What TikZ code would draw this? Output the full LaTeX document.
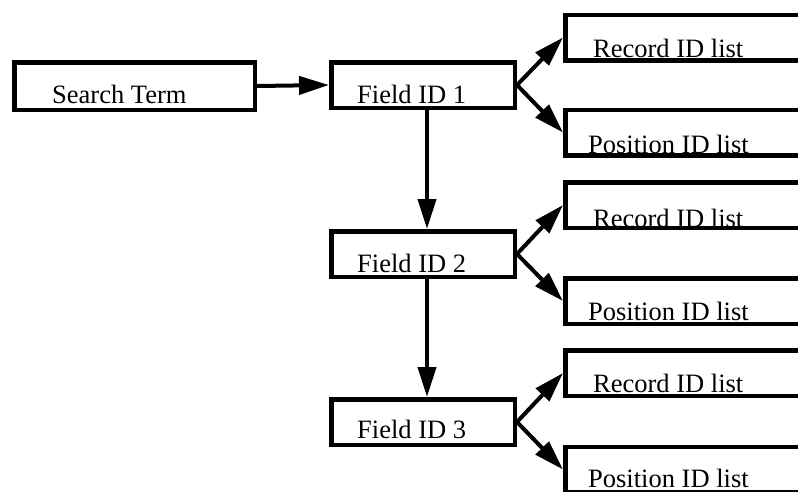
\documentclass[tikz,border=0pt]{standalone}
\usepackage{fontspec}
\setmainfont{Liberation Serif}
\usetikzlibrary{arrows.meta}
\begin{document}
\begin{tikzpicture}[x=1pt,y=-1pt,
  box/.style={draw, line width=4.5pt, inner sep=0pt, minimum height=45.5pt},
  fieldbox/.style={box, minimum width=183.5pt},
  listbox/.style={box, minimum width=272.5pt},
  lbl/.style={anchor=base west, inner sep=0pt, font=\fontsize{26.5}{30}\selectfont},
  conn/.style={line width=4pt, -{Triangle[length=30pt,width=18pt]}}]
\useasboundingbox (0,0) rectangle (798,491);
\clip (0,0) rectangle (798,491);

% search term
\node[box, minimum width=240.5pt, minimum height=47.5pt] (st) at (134.5,86) {};
\node[lbl] (stt) at (52,103) {Search Term};

% field boxes
\node[fieldbox] (f1) at (423,85) {};
\node[fieldbox] (f2) at (423,254) {};
\node[fieldbox] (f3) at (423,422) {};
\node[lbl] (f1t) at (357,103) {Field ID 1};
\node[lbl] (f2t) at (357,272) {Field ID 2};
\node[lbl] (f3t) at (357,438) {Field ID 3};

% record and position lists (running past the right edge)
\node[listbox] (r1) at (701.5,37.5) {};
\node[listbox] (p1) at (701.5,132.5) {};
\node[listbox] (r2) at (701.5,205) {};
\node[listbox] (p2) at (701.5,301) {};
\node[listbox] (r3) at (701.5,373) {};
\node[listbox] (p3) at (701.5,469.5) {};
\node[lbl] (r1t) at (593,57) {Record ID list};
\node[lbl] (p1t) at (588,153) {Position ID list};
\node[lbl] (r2t) at (593,227) {Record ID list};
\node[lbl] (p2t) at (588,320) {Position ID list};
\node[lbl] (r3t) at (593,392) {Record ID list};
\node[lbl] (p3t) at (588,487) {Position ID list};

% connectors
\draw[conn] (st.east) -- (f1.west);
\draw[conn] ([xshift=4pt]f1.south) -- ([xshift=4pt]f2.north);
\draw[conn] ([xshift=4pt]f2.south) -- ([xshift=4pt]f3.north);
\foreach \f/\r/\p in {f1/r1/p1, f2/r2/p2, f3/r3/p3}{
  \draw[conn] (\f.east) -- (\r.west);
  \draw[conn] (\f.east) -- (\p.west);
}
\end{tikzpicture}
\end{document}
